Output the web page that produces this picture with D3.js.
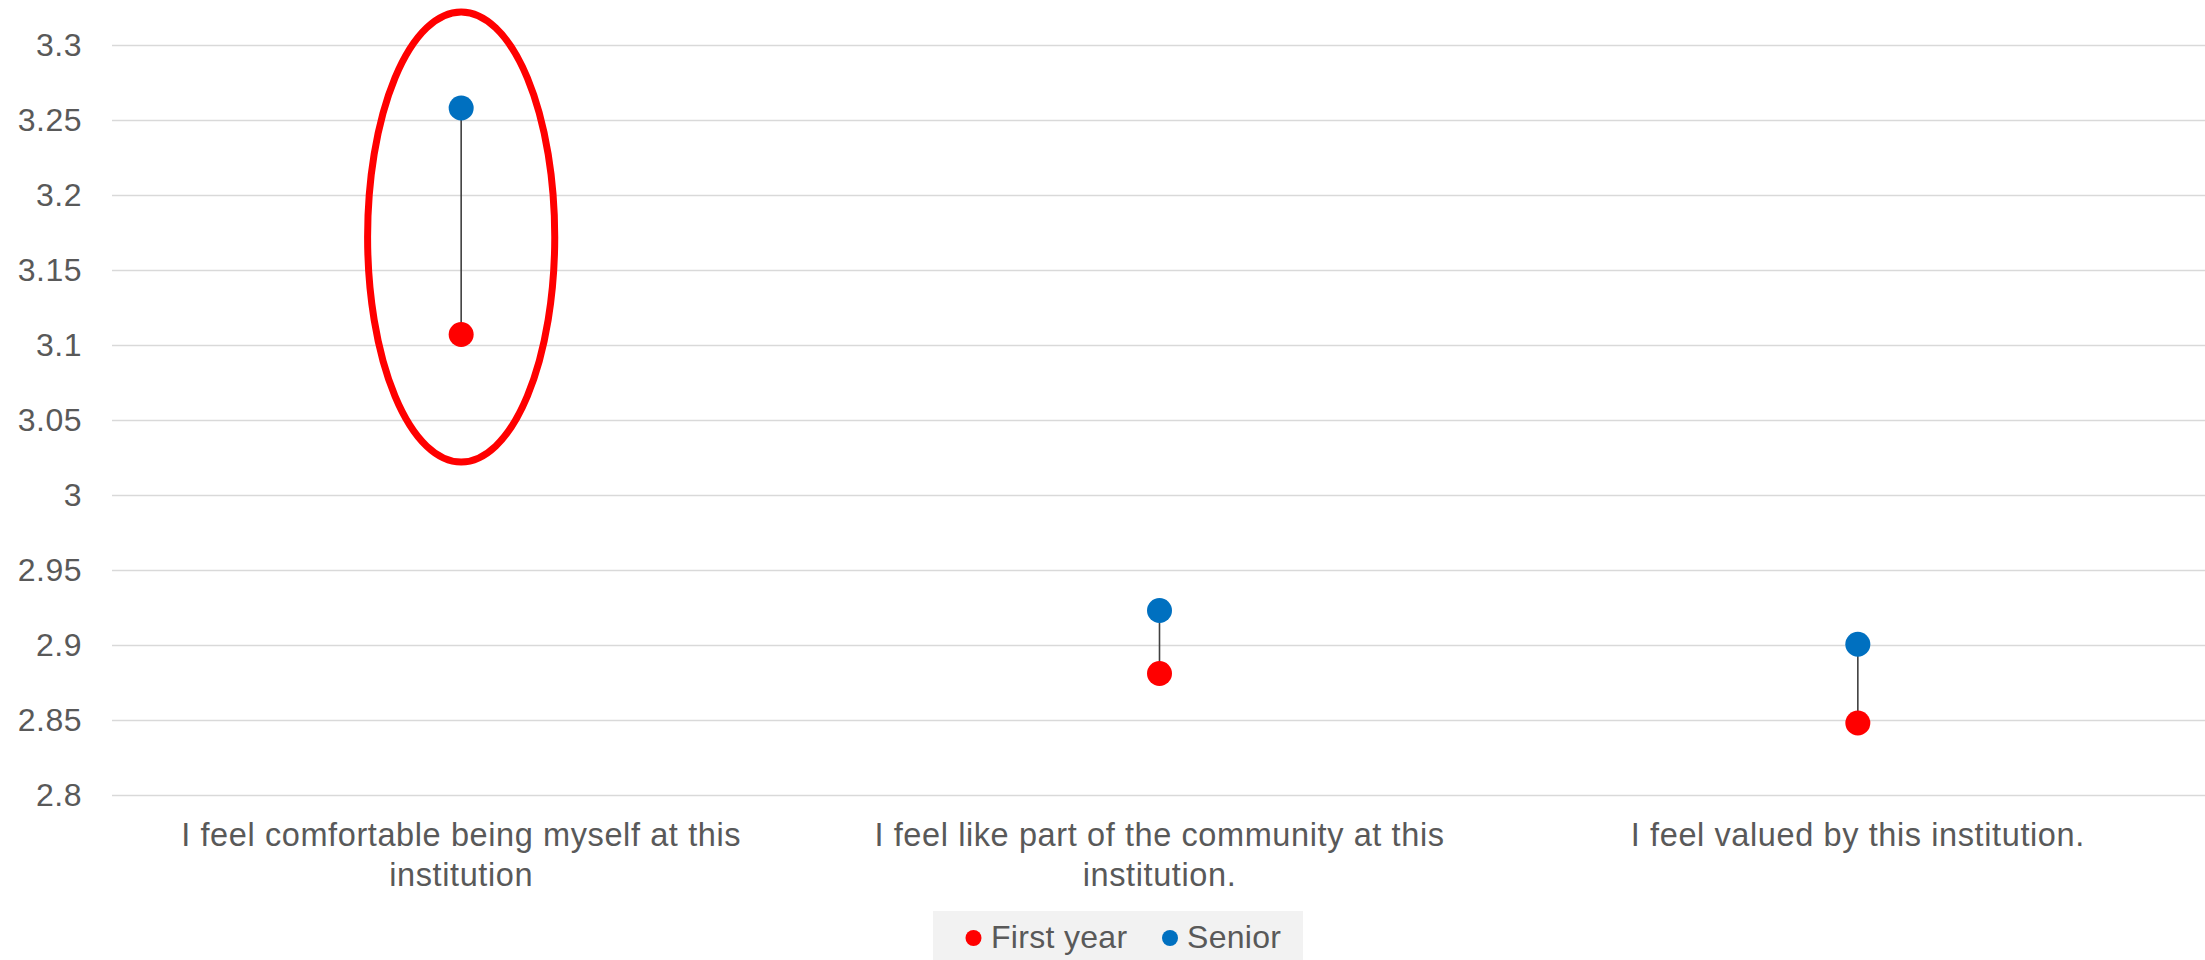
<!DOCTYPE html>
<html>
<head>
<meta charset="utf-8">
<script src="https://cdn.jsdelivr.net/npm/d3@7"></script>
<style>
  html, body { margin: 0; padding: 0; background: #ffffff; }
  svg { display: block; font-family: "Liberation Sans", Arial, Helvetica, sans-serif; }
</style>
</head>
<body>
<svg id="chart" width="2205" height="960"></svg>
<script>
// ---- data ----
const categories = [
  "I feel comfortable being myself at this institution",
  "I feel like part of the community at this institution.",
  "I feel valued by this institution."
];
const seriesNames = ["First year", "Senior"];
const firstYear = [3.107, 2.881, 2.848];
const senior = [3.258, 2.923, 2.9005];
const tickValues = [2.8, 2.85, 2.9, 2.95, 3, 3.05, 3.1, 3.15, 3.2, 3.25, 3.3];
const highlightCategory = categories[0];
const highlightRange = [3.022, 3.322];

// ---- styles ----
const colors = { "First year": "#ff0000", "Senior": "#0070c0" };
const textColor = "#595959";
const gridColor = "#d9d9d9";

const W = 2205, H = 960;
const svg = d3.select("#chart");

const x = d3.scaleBand().domain(categories).range([112, 2207]).padding(0);
const y = d3.scaleLinear().domain([2.8, 3.3]).range([795, 45]);

// y axis with gridlines
const yAxis = d3.axisLeft(y)
  .tickValues(tickValues)
  .tickFormat(d3.format(""))
  .tickSize(-(W - 112))
  .tickPadding(30);

const gy = svg.append("g").attr("transform", "translate(112,0)").call(yAxis);
gy.select(".domain").remove();
gy.selectAll(".tick line").attr("stroke", gridColor).attr("stroke-width", 1.6);
gy.selectAll(".tick text")
  .attr("fill", textColor)
  .style("font-size", "32px")
  .style("letter-spacing", "0.5px")
  .style("font-family", '"Liberation Sans", Arial, sans-serif');

// category labels with wrapping
const labelG = svg.append("g");
function wrap(textSel, width) {
  textSel.each(function () {
    const t = d3.select(this);
    const words = t.text().split(/\s+/);
    t.text(null);
    let line = [];
    const x0 = t.attr("x");
    let tspan = t.append("tspan").attr("x", x0).attr("dy", 0);
    for (const w of words) {
      line.push(w);
      tspan.text(line.join(" "));
      if (tspan.node().getComputedTextLength() > width && line.length > 1) {
        line.pop();
        tspan.text(line.join(" "));
        line = [w];
        tspan = t.append("tspan").attr("x", x0).attr("dy", "40px").text(w);
      }
    }
  });
}
labelG.selectAll("text")
  .data(categories)
  .join("text")
  .attr("x", d => x(d) + x.bandwidth() / 2)
  .attr("y", 846)
  .attr("text-anchor", "middle")
  .attr("fill", textColor)
  .style("font-size", "32.5px")
  .style("letter-spacing", "0.6px")
  .text(d => d)
  .call(wrap, x.bandwidth() * 0.88);

// connectors
const rows = categories.map((c, i) => ({ c, fy: firstYear[i], sr: senior[i] }));
svg.append("g").selectAll("line")
  .data(rows)
  .join("line")
  .attr("x1", d => x(d.c) + x.bandwidth() / 2)
  .attr("x2", d => x(d.c) + x.bandwidth() / 2)
  .attr("y1", d => y(d.fy))
  .attr("y2", d => y(d.sr))
  .attr("stroke", "#404040")
  .attr("stroke-width", 1.6);

// dots
const dotG = svg.append("g");
[[firstYear, "First year"], [senior, "Senior"]].forEach(([vals, name]) => {
  dotG.selectAll(null)
    .data(vals.map((v, i) => ({ c: categories[i], v })))
    .join("circle")
    .attr("cx", d => x(d.c) + x.bandwidth() / 2)
    .attr("cy", d => y(d.v))
    .attr("r", 12.5)
    .attr("fill", colors[name]);
});

// highlight ellipse
svg.append("ellipse")
  .attr("cx", x(highlightCategory) + x.bandwidth() / 2)
  .attr("cy", (y(highlightRange[0]) + y(highlightRange[1])) / 2)
  .attr("rx", x.bandwidth() * 0.134)
  .attr("ry", Math.abs(y(highlightRange[0]) - y(highlightRange[1])) / 2)
  .attr("fill", "none")
  .attr("stroke", "#ff0000")
  .attr("stroke-width", 7);

// legend
const lg = svg.append("g");
lg.append("rect").attr("x", 933).attr("y", 911).attr("width", 370).attr("height", 49).attr("fill", "#f2f2f2");
const legendItems = [
  { name: seriesNames[0], cx: 973.5, tx: 991 },
  { name: seriesNames[1], cx: 1170, tx: 1187 }
];
legendItems.forEach(it => {
  lg.append("circle").attr("cx", it.cx).attr("cy", 938).attr("r", 8).attr("fill", colors[it.name]);
  lg.append("text").attr("x", it.tx).attr("y", 948).attr("fill", textColor)
    .style("font-size", "32px").style("letter-spacing", "0.3px").text(it.name);
});
</script>
</body>
</html>
